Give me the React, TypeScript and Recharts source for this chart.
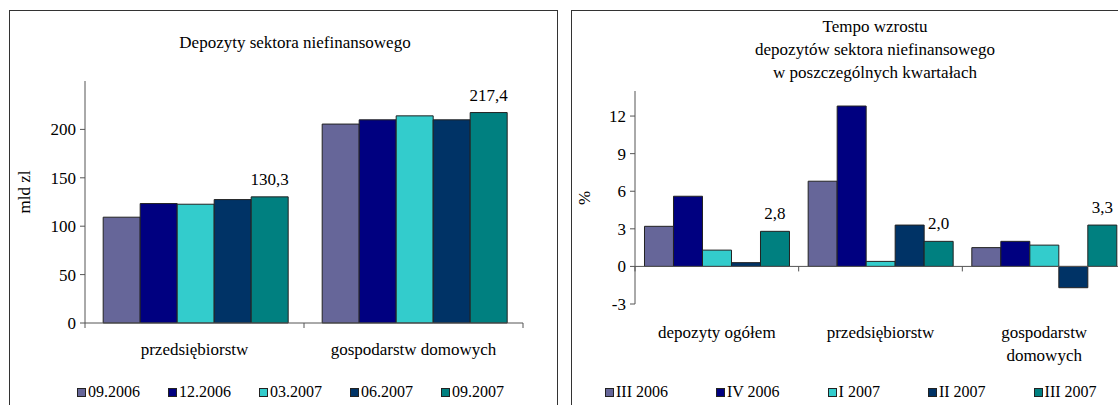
import React from 'react';
import { BarChart, Bar, XAxis, YAxis, ReferenceLine, LabelList, Text } from 'recharts';

const FONT = 'Times New Roman, Liberation Serif, Tinos, Noto Serif, DejaVu Serif, serif';

// lewy wykres - stany depozytow (mld zl)
const levelCats = ['przedsiębiorstw', 'gospodarstw domowych'];
const levelSeries = ['09.2006', '12.2006', '03.2007', '06.2007', '09.2007'];
const lvl0906 = [109.3, 205.5];
const lvl1206 = [123.4, 209.9];
const lvl0307 = [122.7, 214.0];
const lvl0607 = [127.5, 209.9];
const lvl0907 = [130.3, 217.4];
const levelTicks = [0, 50, 100, 150, 200];

// prawy wykres - tempo wzrostu (%)
const growthCats = ['depozyty ogółem', 'przedsiębiorstw', 'gospodarstw domowych'];
const growthSeries = ['III 2006', 'IV 2006', 'I 2007', 'II 2007', 'III 2007'];
const gr306 = [3.2, 6.8, 1.5];
const gr406 = [5.6, 12.8, 2.0];
const gr107 = [1.3, 0.4, 1.7];
const gr207 = [0.3, 3.3, -1.7];
const gr307 = [2.8, 2.0, 3.3];
const growthTicks = [-3, 0, 3, 6, 9, 12];

const colors = ['#666699', '#000080', '#33CCCC', '#003366', '#008080'];
const AXIS = '#555';

const levelData = levelCats.map((name, i) => ({
  name,
  s0: lvl0906[i],
  s1: lvl1206[i],
  s2: lvl0307[i],
  s3: lvl0607[i],
  s4: lvl0907[i],
}));

const growthData = growthCats.map((name, i) => ({
  name,
  s0: gr306[i],
  s1: gr406[i],
  s2: gr107[i],
  s3: gr207[i],
  s4: gr307[i],
}));

const fmt = (v: any) => Number(v).toFixed(1).replace('.', ',');

// os X w stylu Excela: linia na zerze + kreski na granicach kategorii
const zeroAxis = (n: number) => (props: any) => {
  const { x1, y1, x2 } = props;
  const step = (x2 - x1) / n;
  return (
    <g>
      <line x1={x1} y1={y1} x2={x2} y2={y1} stroke={AXIS} strokeWidth={1} />
      {Array.from({ length: n + 1 }, (_, i) => (
        <line key={i} x1={x1 + i * step} y1={y1} x2={x1 + i * step} y2={y1 + 5} stroke={AXIS} />
      ))}
    </g>
  );
};

const catTick = (dy: number, w: number) => (props: any) => {
  const { x, y, payload } = props;
  return (
    <Text
      x={x}
      y={y + dy}
      width={w}
      textAnchor="middle"
      verticalAnchor="start"
      lineHeight={23}
      style={{ fontSize: 17, fontFamily: FONT, fill: '#000' }}
    >
      {payload.value}
    </Text>
  );
};

function Legend({ names, left, top, step, gap }: { names: string[]; left: number; top: number; step?: number; gap?: number }) {
  return (
    <div style={{ position: 'absolute', left, top, display: 'flex', fontFamily: FONT, fontSize: 16, lineHeight: '18px', whiteSpace: 'nowrap' }}>
      {names.map((n, i) => (
        <div key={n} style={{ width: step, marginRight: gap, display: 'flex', alignItems: 'center' }}>
          <span
            style={{
              display: 'inline-block',
              width: 7,
              height: 7,
              background: colors[i],
              border: '1px solid #222',
              marginRight: 2,
            }}
          />
          <span>{n}</span>
        </div>
      ))}
    </div>
  );
}

const tickStyle = { fontSize: 17, fontFamily: FONT, fill: '#000' };

export default function App() {
  return (
    <div
      style={{
        position: 'fixed',
        left: 0,
        top: 0,
        width: 1118,
        height: 405,
        overflow: 'hidden',
        background: '#fff',
        fontFamily: FONT,
      }}
    >
      {/* ramki paneli */}
      <div style={{ position: 'absolute', left: 9, top: 10, width: 547, height: 420, border: '1px solid #333' }} />
      <div style={{ position: 'absolute', left: 571, top: 10, width: 600, height: 420, border: '1px solid #333' }} />

      {/* lewy panel */}
      <div style={{ position: 'absolute', left: 0, top: 33, width: 590, textAlign: 'center', fontSize: 17 }}>
        Depozyty sektora niefinansowego
      </div>
      <div
        style={{
          position: 'absolute',
          left: 25,
          top: 192,
          transform: 'translate(-50%, -50%) rotate(-90deg)',
          fontSize: 17,
          whiteSpace: 'nowrap',
        }}
      >
        mld zl
      </div>
      <div style={{ position: 'absolute', left: 0, top: 0 }}>
        <BarChart
          width={560}
          height={405}
          data={levelData}
          margin={{ top: 81, right: 37, bottom: 42, left: 25 }}
          barCategoryGap="8.3%"
          barGap={0}
        >
          <XAxis
            dataKey="name"
            axisLine={false}
            tickLine={false}
            tickSize={0}
            tickMargin={0}
            height={40}
            interval={0}
            tick={catTick(20, 200)}
          />
          <YAxis
            type="number"
            domain={[0, 250]}
            ticks={levelTicks}
            interval={0}
            width={60}
            axisLine={{ stroke: AXIS }}
            tickLine={{ stroke: AXIS }}
            tickSize={5}
            tickMargin={4}
            tick={tickStyle}
          />
          {levelSeries.map((s, i) => (
            <Bar key={s} dataKey={`s${i}`} name={s} fill={colors[i]} stroke="#222" strokeWidth={1} isAnimationActive={false}>
              {i === 4 && (
                <LabelList dataKey={`s${i}`} position="top" offset={12} formatter={fmt} style={tickStyle} />
              )}
            </Bar>
          ))}
          <ReferenceLine y={0} shape={zeroAxis(levelCats.length)} />
        </BarChart>
      </div>
      <Legend names={levelSeries} left={77} top={383} step={91} />

      {/* prawy panel */}
      <div style={{ position: 'absolute', left: 700, top: 15, width: 350, textAlign: 'center', fontSize: 17, lineHeight: '23px' }}>
        Tempo wzrostu
        <br />
        depozytów sektora niefinansowego
        <br />
        w poszczególnych kwartałach
      </div>
      <div
        style={{
          position: 'absolute',
          left: 585,
          top: 198,
          transform: 'translate(-50%, -50%) rotate(-90deg)',
          fontSize: 17,
        }}
      >
        %
      </div>
      <div style={{ position: 'absolute', left: 558, top: 0 }}>
        <BarChart
          width={600}
          height={405}
          data={growthData}
          margin={{ top: 91, right: 32, bottom: 41, left: 17 }}
          barCategoryGap="5.8%"
          barGap={0}
        >
          <XAxis
            dataKey="name"
            axisLine={false}
            tickLine={false}
            tickSize={0}
            tickMargin={0}
            height={60}
            interval={0}
            tick={catTick(22, 140)}
          />
          <YAxis
            type="number"
            domain={[-3, 14]}
            ticks={growthTicks}
            interval={0}
            width={60}
            axisLine={{ stroke: AXIS }}
            tickLine={{ stroke: AXIS }}
            tickSize={5}
            tickMargin={4}
            tick={tickStyle}
          />
          {growthSeries.map((s, i) => (
            <Bar key={s} dataKey={`s${i}`} name={s} fill={colors[i]} stroke="#222" strokeWidth={1} isAnimationActive={false}>
              {i === 4 && (
                <LabelList dataKey={`s${i}`} position="top" offset={12} formatter={fmt} style={tickStyle} />
              )}
            </Bar>
          ))}
          <ReferenceLine y={0} shape={zeroAxis(growthCats.length)} />
        </BarChart>
      </div>
      <Legend names={growthSeries} left={605} top={383} gap={48} />
    </div>
  );
}
